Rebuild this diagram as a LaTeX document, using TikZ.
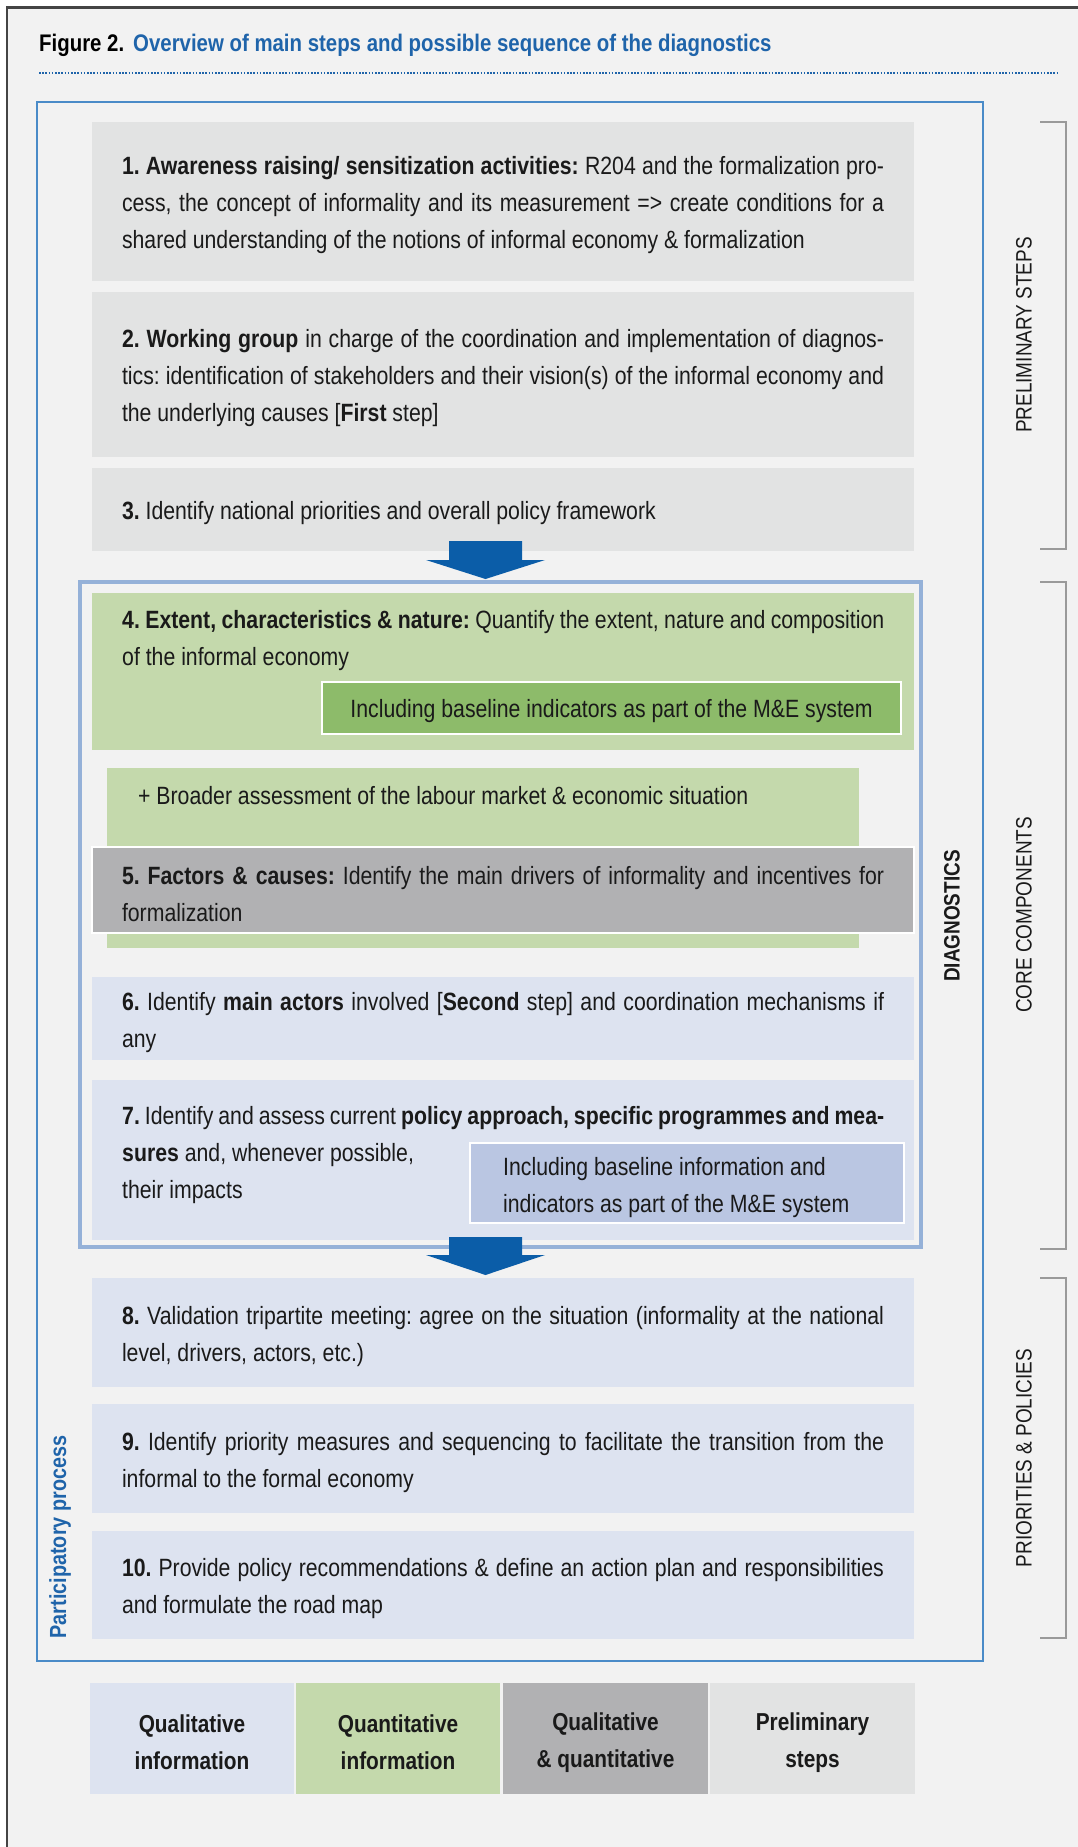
\documentclass[tikz,border=0pt]{standalone}
\usepackage{fontspec}
\setmainfont[FakeStretch=0.85]{Liberation Sans}
\usetikzlibrary{calc}
\definecolor{bg}{HTML}{F2F2F2}
\definecolor{prelim}{HTML}{E2E3E3}
\definecolor{quant}{HTML}{C4D9AC}
\definecolor{quantdark}{HTML}{8DBB6A}
\definecolor{both}{HTML}{B1B1B3}
\definecolor{qual}{HTML}{DDE3F0}
\definecolor{qualdark}{HTML}{BAC6E2}
\definecolor{frameblue}{HTML}{4A8BC8}
\definecolor{diagblue}{HTML}{95B1D8}
\definecolor{arrowblue}{HTML}{0B5DA8}
\definecolor{titleblue}{HTML}{1F64AA}
\definecolor{bracketgray}{HTML}{9A9A9A}
\definecolor{textc}{HTML}{1A1A1A}
\definecolor{framegray}{HTML}{444444}
\frenchspacing
\newlength\bw \setlength\bw{762pt}
\newcommand\JL[1]{\hbox to \bw{#1}}
\newcommand\NL[1]{\hbox to \bw{#1\hfil}}
\newcommand\TB[1]{\raisebox{-4pt}[\height][\depth]{\parbox{\bw}{#1}}}
\newcommand\LG[2]{\raisebox{-4pt}[\height][\depth]{\parbox{200pt}{\centering #1\par #2}}}
\newcommand\bodyfont{\fontsize{25}{37}\selectfont}
\newcommand\sidefont{\fontsize{22.3}{28}\selectfont}
\begin{document}
\begin{tikzpicture}[x=1pt,y=-1pt,
  stepbox/.style={rectangle, draw=none, inner sep=0pt, minimum width=822pt, font=\bodyfont, text=textc},
  txt/.style={inner sep=0pt, font=\bodyfont, text=textc},
  subbox/.style={rectangle, draw=white, line width=2.5pt, inner sep=0pt, font=\bodyfont, text=textc},
  legbox/.style={rectangle, inner sep=0pt, minimum height=111pt, font=\fontsize{24.5}{37}\selectfont\bfseries, text=textc},
  sidelabel/.style={rotate=90, inner sep=0pt, font=\sidefont, text=textc},
  bracket/.style={draw=bracketgray, line width=1.8pt},
  bigarrow/.style={fill=arrowblue}
]
\useasboundingbox (0,0) rectangle (1078,1847);
% page background and frame
\fill[white] (0,0) rectangle (1078,1847);
\fill[bg] (7,7) rectangle (1078,1847);
\draw[framegray, line width=2pt] (7,1847) -- (7,7);
\draw[framegray, line width=3pt] (6,7) -- (1078,7);

% title
\node[anchor=base west, inner sep=0pt, font=\fontsize{24}{28}\selectfont\bfseries] (title) at (39,51)
  {Figure 2.\hspace{9pt}\textcolor{titleblue}{Overview of main steps and possible sequence of the diagnostics}};
\draw[titleblue, line width=1.6pt, dash pattern=on 1.6pt off 1.6pt] (39,73) -- (1058,73);

% participatory frame
\draw[frameblue, line width=1.8pt] (37,102) rectangle (983,1661);

% preliminary steps
\node[stepbox, fill=prelim, minimum height=159pt] (s1) at (503,201.5) {\TB{%
\JL{\textbf{1. Awareness raising/ sensitization activities:} R204 and the formalization pro-}%
\JL{cess, the concept of informality and its measurement => create conditions for a}%
\NL{shared understanding of the notions of informal economy \& formalization}}};
\node[stepbox, fill=prelim, minimum height=165pt] (s2) at (503,374.5) {\TB{%
\JL{\textbf{2. Working group} in charge of the coordination and implementation of diagnos-}%
\JL{tics: identification of stakeholders and their vision(s) of the informal economy and}%
\NL{the underlying causes [\textbf{First} step]}}};
\node[stepbox, fill=prelim, minimum height=83pt] (s3) at (503,509.5) {\TB{%
\NL{\textbf{3.} Identify national priorities and overall policy framework}}};

% diagnostics frame
\draw[diagblue, line width=4pt] (80,582) rectangle (921,1247);

% step 4
\node[stepbox, fill=quant, minimum height=157pt] (s4) at (503,671.5) {};
\node[txt, anchor=base west] (t4) at (122,628) {\parbox[t]{\bw}{%
\JL{\textbf{4. Extent, characteristics \& nature:} Quantify the extent, nature and composition}%
\NL{of the informal economy}}};
\node[subbox, fill=quantdark, minimum width=579pt, minimum height=52pt] (m4) at (611.5,708)
  {\raisebox{-3pt}[\height][\depth]{Including baseline indicators as part of the M\&E system}};

% broader assessment
\node[rectangle, inner sep=0pt, fill=quant, minimum width=752pt, minimum height=180pt] (br) at (483,858) {};
\node[txt, anchor=base west] (brt) at (138,804) {+ Broader assessment of the labour market \& economic situation};

% step 5
\node[stepbox, fill=both, draw=white, line width=2.5pt, minimum height=86pt] (s5) at (503,890) {\TB{%
\JL{\textbf{5. Factors \& causes:} Identify the main drivers of informality and incentives for}%
\NL{formalization}}};

% step 6
\node[stepbox, fill=qual, minimum height=83pt] (s6) at (503,1018.5) {\TB{%
\JL{\textbf{6.} Identify \textbf{main actors} involved [\textbf{Second} step] and coordination mechanisms if}%
\NL{any}}};

% step 7
\node[stepbox, fill=qual, minimum height=160pt] (s7) at (503,1160) {};
\node[txt, anchor=base west] (t7) at (122,1124) {\parbox[t]{\bw}{%
\JL{\textbf{7.} Identify and assess current \textbf{policy approach, specific programmes and mea-}}%
\NL{\textbf{sures} and, whenever possible,}%
\NL{their impacts}}};
\node[subbox, fill=qualdark, minimum width=434pt, minimum height=80pt] (m7) at (687,1183) {};
\node[txt, anchor=base west] (m7t) at (503,1175) {\parbox[t]{390pt}{%
\hbox{Including baseline information and}%
\hbox{indicators as part of the M\&E system}}};

% steps 8-10
\node[stepbox, fill=qual, minimum height=109pt] (s8) at (503,1332.5) {\TB{%
\JL{\textbf{8.} Validation tripartite meeting: agree on the situation (informality at the national}%
\NL{level, drivers, actors, etc.)}}};
\node[stepbox, fill=qual, minimum height=109pt] (s9) at (503,1458.5) {\TB{%
\JL{\textbf{9.} Identify priority measures and sequencing to facilitate the transition from the}%
\NL{informal to the formal economy}}};
\node[stepbox, fill=qual, minimum height=108pt] (s10) at (503,1585) {\TB{%
\JL{\textbf{10.} Provide policy recommendations \& define an action plan and responsibilities}%
\NL{and formulate the road map}}};

% arrows
\coordinate (a1) at (485.5,541);
\coordinate (a2) at (485.5,1237);
\fill[bigarrow] (a1) ++(-36.5,0) -- ++(73,0) -- ++(0,19) -- ++(23,0) -- ++(-59.5,19) -- ++(-59.5,-19) -- ++(23,0) -- cycle;
\fill[bigarrow] (a2) ++(-36.5,0) -- ++(73,0) -- ++(0,18) -- ++(23,0) -- ++(-59.5,20) -- ++(-59.5,-20) -- ++(23,0) -- cycle;

% side labels
\node[sidelabel, font=\sidefont\bfseries] (dg) at (952,916) {DIAGNOSTICS};
\node[sidelabel, font=\fontsize{23.3}{28}\selectfont\bfseries, text=titleblue] (pp) at (60,1537) {Participatory process};
\node[sidelabel] (lp) at (1024,335) {PRELIMINARY STEPS};
\node[sidelabel] (lc) at (1024,915) {CORE COMPONENTS};
\node[sidelabel] (lq) at (1024,1458) {PRIORITIES \& POLICIES};
\draw[bracket] (1040,122) -- (1066,122) -- (1066,549) -- (1040,549);
\draw[bracket] (1040,582) -- (1066,582) -- (1066,1249) -- (1040,1249);
\draw[bracket] (1040,1278) -- (1066,1278) -- (1066,1638) -- (1040,1638);

% legend
\node[legbox, fill=qual, minimum width=204pt] (l1) at (192,1738.5) {\LG{Qualitative}{information}};
\node[legbox, fill=quant, minimum width=204pt] (l2) at (398,1738.5) {\LG{Quantitative}{information}};
\node[legbox, fill=both, minimum width=205pt] (l3) at (605.5,1738.5) {\LG{Qualitative}{\& quantitative}};
\node[legbox, fill=prelim, minimum width=205pt] (l4) at (812.5,1738.5) {\LG{Preliminary}{steps}};
\end{tikzpicture}
\end{document}
